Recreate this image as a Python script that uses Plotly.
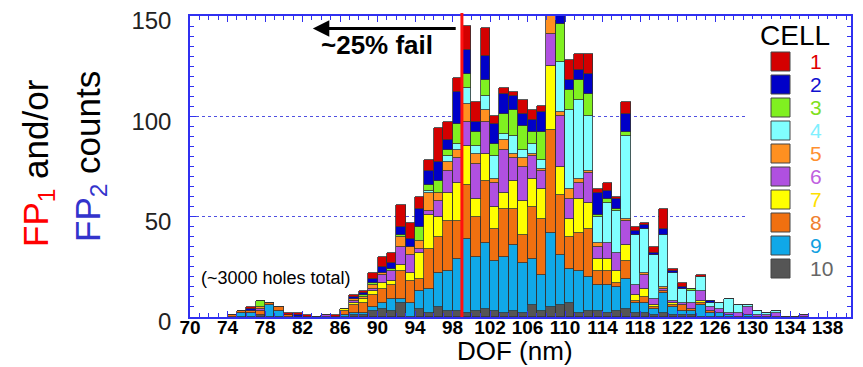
import plotly.graph_objects as go

# DOF bins (nm, left edge of each 1-nm bin)
bins = [74, 75, 76, 77, 78, 79, 80, 81, 82, 83,
        84, 85, 86, 87, 88, 89, 90, 91, 92, 93,
        94, 95, 96, 97, 98, 99, 100, 101, 102, 103,
        104, 105, 106, 107, 108, 109, 110, 111, 112, 113,
        114, 115, 116, 117, 118, 119, 120, 121, 122, 123,
        124, 125, 126, 127, 128, 129, 130, 131, 132, 133,
        134, 135]

cell1 = [0, 0, 1, 0, 0, 0, 1, 1, 1, 0,
         0, 1, 0, 1, 1, 3, 5, 5, 11, 8,
         6, 5, 17, 9, 7, 12, 10, 14, 4, 3,
         2, 7, 5, 3, 0, 0, 10, 8, 10, 2,
         4, 1, 6, 2, 1, 3, 10, 1, 2, 0,
         1, 0, 0, 0, 0, 0, 0, 0, 0, 0,
         0, 0]
cell2 = [0, 0, 1, 0, 0, 0, 0, 1, 0, 0,
         0, 0, 0, 1, 1, 2, 3, 3, 4, 4,
         9, 7, 9, 5, 16, 12, 5, 12, 10, 10,
         7, 6, 6, 10, 0, 6, 5, 5, 10, 11,
         4, 5, 9, 2, 2, 1, 3, 1, 1, 0,
         0, 1, 0, 0, 0, 0, 0, 0, 0, 0,
         0, 0]
cell3 = [0, 0, 0, 3, 0, 0, 0, 0, 0, 0,
         0, 0, 0, 0, 1, 1, 0, 1, 1, 0,
         7, 3, 6, 3, 10, 7, 7, 8, 6, 10,
         13, 12, 6, 14, 0, 19, 10, 10, 11, 1,
         2, 1, 2, 0, 0, 0, 0, 0, 0, 1,
         0, 0, 0, 0, 0, 0, 0, 0, 0, 0,
         0, 0]
cell4 = [0, 0, 0, 0, 0, 0, 0, 0, 0, 0,
         0, 0, 0, 0, 0, 0, 0, 0, 0, 0,
         0, 1, 0, 3, 3, 8, 4, 7, 11, 3,
         9, 4, 5, 4, 0, 25, 39, 39, 27, 13,
         20, 21, 41, 25, 22, 22, 26, 14, 7, 6,
         7, 2, 3, 7, 4, 1, 2, 1, 1, 0,
         0, 0]
cell5 = [0, 0, 0, 1, 0, 0, 0, 0, 0, 0,
         0, 0, 0, 1, 1, 2, 1, 0, 5, 4,
         4, 9, 4, 4, 4, 9, 5, 6, 2, 5,
         2, 4, 1, 1, 10, 2, 5, 2, 1, 2,
         0, 0, 1, 0, 1, 0, 1, 0, 0, 0,
         0, 0, 0, 0, 0, 0, 0, 0, 0, 0,
         0, 0]
cell6 = [0, 0, 0, 1, 0, 0, 0, 0, 0, 0,
         1, 0, 0, 1, 0, 1, 4, 5, 9, 9,
         2, 2, 8, 11, 12, 12, 17, 16, 12, 21,
         11, 17, 11, 9, 16, 25, 10, 8, 15, 6,
         8, 9, 12, 5, 7, 3, 1, 1, 1, 3,
         5, 2, 2, 1, 2, 4, 1, 1, 2, 0,
         0, 1]
cell7 = [0, 0, 0, 0, 0, 0, 0, 0, 0, 0,
         0, 0, 1, 1, 2, 2, 3, 2, 3, 4,
         13, 17, 10, 14, 19, 19, 9, 13, 11, 8,
         14, 17, 14, 15, 32, 14, 9, 17, 13, 6,
         6, 6, 8, 3, 4, 1, 0, 1, 0, 0,
         1, 0, 0, 0, 0, 0, 0, 0, 0, 0,
         0, 0]
cell8 = [1, 1, 1, 2, 1, 2, 1, 0, 0, 0,
         0, 0, 2, 4, 5, 6, 7, 7, 14, 11,
         6, 20, 18, 25, 19, 27, 20, 31, 16, 24,
         18, 14, 26, 28, 51, 30, 16, 19, 24, 7,
         7, 2, 9, 1, 3, 1, 1, 1, 3, 1,
         1, 1, 0, 0, 0, 0, 0, 0, 0, 0,
         0, 0]
cell9 = [0, 2, 2, 0, 6, 3, 0, 0, 0, 0,
         0, 0, 1, 1, 1, 2, 3, 6, 2, 7,
         9, 12, 17, 20, 26, 37, 27, 33, 25, 28,
         33, 25, 23, 18, 37, 25, 17, 21, 17, 13,
         14, 12, 15, 5, 5, 3, 10, 4, 2, 2,
         6, 2, 2, 1, 0, 1, 0, 0, 0, 0,
         0, 0]
cell10 = [0, 0, 0, 1, 0, 0, 0, 0, 0, 0,
          0, 0, 0, 1, 1, 3, 4, 3, 7, 0,
          4, 2, 5, 3, 3, 2, 3, 4, 3, 2,
          3, 2, 6, 3, 5, 6, 7, 2, 3, 3,
          2, 3, 4, 2, 2, 1, 2, 1, 1, 1,
          0, 0, 0, 0, 0, 0, 0, 0, 0, 0,
          0, 0]

cell_names = ["1", "2", "3", "4", "5", "6", "7", "8", "9", "10"]
cell_values = [cell1, cell2, cell3, cell4, cell5, cell6, cell7, cell8, cell9, cell10]
cell_colors = ["#D40000", "#0000C8", "#80F020", "#80FFFF", "#FF9020",
               "#B050E0", "#FFFF00", "#F07010", "#10A8E8", "#555555"]
label_colors = ["#E00000", "#1010D0", "#80E020", "#80F0FF", "#FF9030",
                "#C060E0", "#FFE000", "#F08030", "#10A0E0", "#666666"]

x_ticks = [70, 74, 78, 82, 86, 90, 94, 98, 102, 106, 110, 114, 118, 122, 126, 130, 134, 138]
y_ticks = [0, 50, 100, 150]
fail_limit = 99

# page is offset by the default 8px body margin
OFF = 8
W, H = 863, 367
P_LEFT, P_RIGHT, P_TOP, P_BOTTOM = 190, 851, 16, 317   # target plot box on the page
ML, MR, MT = P_LEFT - OFF, W - (P_RIGHT - OFF), P_TOP - OFF
MB = H - (P_BOTTOM - OFF)
PW, PH = P_RIGHT - P_LEFT, P_BOTTOM - P_TOP


def px_x(p):
    return (p - P_LEFT) / PW


def px_y(p):
    return (P_BOTTOM - p) / PH


BLUE = "#3030F0"
FONT = "Liberation Sans, Arial, sans-serif"
NARROW = "Liberation Sans Narrow, Arial Narrow, Liberation Sans, Arial, sans-serif"

fig = go.Figure()
centers = [b + 0.5 for b in bins]
# stack from cell 10 (bottom) up to cell 1 (top)
for i in reversed(range(10)):
    fig.add_trace(go.Bar(
        x=centers, y=cell_values[i], width=1.0, name=cell_names[i],
        marker=dict(color=cell_colors[i], line=dict(color="#333333", width=0.8)),
        showlegend=False,
    ))

shapes = []
# failure threshold line
shapes.append(dict(type="line", xref="x", yref="paper", x0=fail_limit, x1=fail_limit,
                   y0=0, y1=1.01, line=dict(color="#FF1010", width=3), layer="above"))
# manual legend box
shapes.append(dict(type="rect", xref="paper", yref="paper", x0=px_x(745), x1=px_x(846),
                   y0=px_y(286), y1=px_y(19), fillcolor="white", line=dict(width=0),
                   layer="above"))

annotations = []
annotations.append(dict(xref="paper", yref="paper", x=px_x(795), y=px_y(36),
                        text="CELL", showarrow=False, font=dict(size=28, color="black", family=FONT),
                        xanchor="center", yanchor="middle"))
for i in range(10):
    yc = 61.5 + 23 * i
    shapes.append(dict(type="rect", xref="paper", yref="paper",
                       x0=px_x(771), x1=px_x(790), y0=px_y(yc + 9.5), y1=px_y(yc - 9.5),
                       fillcolor=cell_colors[i], line=dict(color="#444444", width=1),
                       layer="above"))
    annotations.append(dict(xref="paper", yref="paper", x=px_x(808), y=px_y(yc),
                            text=cell_names[i], showarrow=False,
                            font=dict(size=21, color=label_colors[i], family=FONT),
                            xanchor="left", yanchor="middle"))

# arrow and failure text
annotations.append(dict(x=83.1, y=143.8, ax=98.5, ay=143.8, xref="x", yref="y",
                        axref="x", ayref="y", text="", showarrow=True,
                        arrowhead=2, arrowsize=1.1, arrowwidth=3, arrowcolor="black"))
annotations.append(dict(x=89.9, y=135.5, xref="x", yref="y", text="<b>~25% fail</b>",
                        showarrow=False, font=dict(size=26, color="black", family=FONT),
                        xanchor="center", yanchor="middle"))
annotations.append(dict(x=79.2, y=19.4, xref="x", yref="y", text="(~3000 holes total)",
                        showarrow=False, font=dict(size=18, color="black", family=FONT),
                        xanchor="center", yanchor="middle"))
# two-line coloured y-axis title
annotations.append(dict(xref="paper", yref="paper", x=px_x(38), y=px_y(163), textangle=-90,
                        text="<span style='color:#FF0000'>FP<sub>1</sub></span> and/or",
                        showarrow=False, font=dict(size=35, color="black", family=FONT),
                        xanchor="center", yanchor="middle"))
annotations.append(dict(xref="paper", yref="paper", x=px_x(90), y=px_y(157), textangle=-90,
                        text="<span style='color:#3333CC'>FP<sub>2</sub></span> counts",
                        showarrow=False, font=dict(size=35, color="black", family=FONT),
                        xanchor="center", yanchor="middle"))
# x-axis title
annotations.append(dict(xref="paper", yref="paper", x=px_x(515), y=px_y(351),
                        text="DOF (nm)", showarrow=False,
                        font=dict(size=26, color="black", family=FONT),
                        xanchor="center", yanchor="middle"))

fig.update_layout(
    width=W, height=H, margin=dict(l=ML, r=MR, t=MT, b=MB, autoexpand=False),
    barmode="stack", bargap=0, showlegend=False,
    plot_bgcolor="white", paper_bgcolor="white",
    font=dict(family=FONT, color="black"),
    shapes=shapes, annotations=annotations,
)
fig.update_xaxes(
    range=[70, 140.5], tickmode="array", tickvals=x_ticks, ticktext=[str(t) for t in x_ticks],
    ticks="inside", ticklen=6, tickcolor=BLUE, tickwidth=1,
    showline=True, linecolor=BLUE, linewidth=1.5, mirror="allticks",
    showgrid=False, zeroline=False, automargin=False,
    tickfont=dict(size=19, color="black", family=NARROW, weight="bold"),
    ticklabelstandoff=-8, ticklabeloverflow="allow",
    minor=dict(dtick=1, tick0=70, ticks="inside", ticklen=4, tickcolor=BLUE, showgrid=False),
)
fig.update_yaxes(
    range=[0, 150], tickmode="array", tickvals=y_ticks,
    ticks="inside", ticklen=6, tickcolor=BLUE, tickwidth=1,
    showline=True, linecolor=BLUE, linewidth=1.5, mirror="allticks",
    showgrid=True, gridcolor="#5050E0", griddash="dot", gridwidth=1, zeroline=False,
    automargin=False, ticklabeloverflow="allow", ticklabelshift=5,
    tickfont=dict(size=24, color="#222222", family=FONT), ticklabelstandoff=12,
    minor=dict(dtick=5, tick0=0, ticks="inside", ticklen=4, tickcolor=BLUE, showgrid=False),
)

fig.write_html("out.html")
